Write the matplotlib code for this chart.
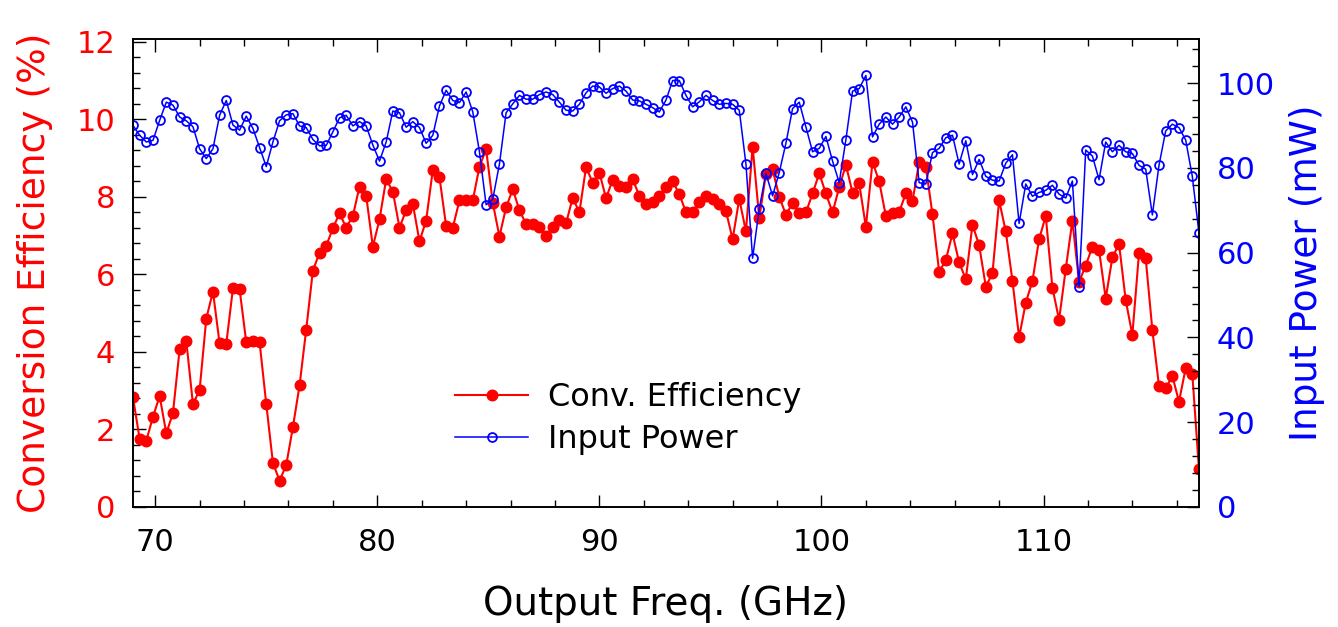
# -*- coding: utf-8 -*-
"""
Conversion efficiency and input power vs output frequency
"""

import matplotlib

matplotlib.use("Agg")
import matplotlib.pyplot as plt
from matplotlib.ticker import MultipleLocator


# region Data

# Output frequency sweep (GHz)
freq_ghz = [
    69.0, 69.3, 69.6, 69.9, 70.2, 70.5, 70.8, 71.1, 71.4, 71.7, 72.0, 72.3,
    72.6, 72.9, 73.2, 73.5, 73.8, 74.1, 74.4, 74.7, 75.0, 75.3, 75.6, 75.9,
    76.2, 76.5, 76.8, 77.1, 77.4, 77.7, 78.0, 78.3, 78.6, 78.9, 79.2, 79.5,
    79.8, 80.1, 80.4, 80.7, 81.0, 81.3, 81.6, 81.9, 82.2, 82.5, 82.8, 83.1,
    83.4, 83.7, 84.0, 84.3, 84.6, 84.9, 85.2, 85.5, 85.8, 86.1, 86.4, 86.7,
    87.0, 87.3, 87.6, 87.9, 88.2, 88.5, 88.8, 89.1, 89.4, 89.7, 90.0, 90.3,
    90.6, 90.9, 91.2, 91.5, 91.8, 92.1, 92.4, 92.7, 93.0, 93.3, 93.6, 93.9,
    94.2, 94.5, 94.8, 95.1, 95.4, 95.7, 96.0, 96.3, 96.6, 96.9, 97.2, 97.5,
    97.8, 98.1, 98.4, 98.7, 99.0, 99.3, 99.6, 99.9, 100.2, 100.5, 100.8, 101.1,
    101.4, 101.7, 102.0, 102.3, 102.6, 102.9, 103.2, 103.5, 103.8, 104.1, 104.4, 104.7,
    105.0, 105.3, 105.6, 105.9, 106.2, 106.5, 106.8, 107.1, 107.4, 107.7, 108.0, 108.3,
    108.6, 108.9, 109.2, 109.5, 109.8, 110.1, 110.4, 110.7, 111.0, 111.3, 111.6, 111.9,
    112.2, 112.5, 112.8, 113.1, 113.4, 113.7, 114.0, 114.3, 114.6, 114.9, 115.2, 115.5,
    115.8, 116.1, 116.4, 116.7, 117.0,
]

# Conversion efficiency (%)
conv_eff = [
    2.83, 1.75, 1.71, 2.33, 2.86, 1.90, 2.43, 4.07, 4.28, 2.65, 3.02, 4.86,
    5.56, 4.22, 4.21, 5.64, 5.62, 4.25, 4.28, 4.25, 2.66, 1.14, 0.68, 1.08,
    2.06, 3.14, 4.58, 6.10, 6.56, 6.74, 7.19, 7.58, 7.21, 7.51, 8.27, 8.03,
    6.72, 7.42, 8.46, 8.14, 7.21, 7.66, 7.82, 6.86, 7.39, 8.70, 8.51, 7.25,
    7.21, 7.91, 7.92, 7.91, 8.78, 9.23, 7.85, 6.98, 7.73, 8.20, 7.66, 7.30,
    7.30, 7.22, 6.99, 7.23, 7.41, 7.32, 7.98, 7.60, 8.77, 8.37, 8.63, 7.97,
    8.44, 8.29, 8.27, 8.46, 8.03, 7.81, 7.86, 8.03, 8.27, 8.40, 8.08, 7.60,
    7.62, 7.86, 8.03, 7.94, 7.82, 7.64, 6.91, 7.95, 7.11, 9.30, 7.45, 8.60,
    8.71, 8.01, 7.54, 7.84, 7.58, 7.60, 8.09, 8.61, 8.09, 7.60, 8.25, 8.83,
    8.11, 8.35, 7.23, 8.91, 8.40, 7.51, 7.58, 7.62, 8.09, 7.90, 8.89, 8.78,
    7.55, 6.07, 6.37, 7.06, 6.31, 5.88, 7.28, 6.76, 5.69, 6.03, 7.91, 7.11,
    5.84, 4.38, 5.27, 5.83, 6.91, 7.51, 5.66, 4.83, 6.14, 7.39, 5.81, 6.23,
    6.72, 6.63, 5.38, 6.44, 6.79, 5.34, 4.44, 6.56, 6.42, 4.57, 3.12, 3.06,
    3.38, 2.72, 3.58, 3.43, 0.97,
]

# Input power (mW)
input_power = [
    90.0, 87.7, 86.1, 86.5, 91.2, 95.5, 94.8, 92.0, 91.1, 89.7, 84.5, 82.2,
    84.5, 92.4, 95.9, 90.1, 88.9, 92.2, 89.3, 84.8, 80.3, 86.1, 91.1, 92.5,
    92.8, 89.9, 89.5, 86.7, 85.2, 85.3, 88.5, 91.8, 92.4, 89.9, 90.9, 89.9,
    85.4, 81.6, 86.1, 93.4, 93.0, 89.6, 90.9, 89.5, 85.8, 87.7, 94.6, 98.3,
    95.9, 95.4, 97.9, 93.2, 83.8, 71.3, 72.6, 80.9, 93.0, 95.1, 97.1, 96.2,
    96.2, 97.3, 97.9, 97.3, 95.5, 93.6, 93.4, 95.0, 97.7, 99.3, 99.1, 97.6,
    98.7, 99.3, 98.1, 96.0, 95.8, 95.0, 94.2, 93.2, 96.0, 100.6, 100.6, 97.1,
    94.4, 95.6, 97.1, 95.9, 95.0, 95.2, 95.0, 93.6, 80.9, 58.7, 70.4, 78.7,
    73.4, 78.9, 85.8, 94.0, 95.5, 89.7, 83.8, 84.6, 87.4, 81.6, 76.5, 86.6,
    98.1, 98.7, 101.8, 87.3, 90.3, 92.0, 90.3, 92.0, 94.4, 90.8, 76.5, 76.2,
    83.6, 84.6, 87.1, 87.7, 80.9, 86.4, 78.4, 82.0, 78.0, 77.1, 76.9, 81.1,
    83.1, 66.9, 76.2, 73.3, 74.2, 74.7, 75.9, 73.8, 72.9, 76.9, 52.0, 84.2,
    82.8, 77.2, 86.1, 83.8, 85.3, 83.8, 83.4, 80.6, 79.7, 68.9, 80.6, 88.7,
    90.3, 89.5, 86.6, 78.0, 64.6,
]

# endregion

RED = "#ff0000"
BLUE = "#0000ff"


def fig():
    plt.rcParams["font.family"] = "DejaVu Sans"
    fig = plt.figure(figsize=(13.38, 6.27), dpi=100)
    ax1 = fig.add_axes([0.0994, 0.1914, 0.7967, 0.7464])
    ax2 = ax1.twinx()

    # Conversion efficiency (left axis)
    ax1.plot(
        freq_ghz,
        conv_eff,
        color=RED,
        linewidth=1.5,
        marker="o",
        markersize=7.6,
        markerfacecolor=RED,
        markeredgecolor=RED,
        label="Conv. Efficiency",
    )
    # Input power (right axis)
    ax2.plot(
        freq_ghz,
        input_power,
        color=BLUE,
        linewidth=1.1,
        marker="o",
        markersize=6.4,
        markerfacecolor="none",
        markeredgecolor=BLUE,
        markeredgewidth=1.3,
        label="Input Power",
    )

    ax1.set_xlim(69, 117)
    ax1.set_ylim(0, 12.077)
    ax2.set_ylim(0, 110.4)

    ax1.xaxis.set_major_locator(MultipleLocator(10))
    ax1.xaxis.set_minor_locator(MultipleLocator(2))
    ax1.yaxis.set_major_locator(MultipleLocator(2))
    ax1.yaxis.set_minor_locator(MultipleLocator(0.4))
    ax2.yaxis.set_major_locator(MultipleLocator(20))
    ax2.yaxis.set_minor_locator(MultipleLocator(4))

    ax1.tick_params(axis="x", which="both", direction="in", top=True,
                    labelsize=22, pad=15)
    ax1.tick_params(axis="y", which="both", direction="in", right=False,
                    labelsize=22, labelcolor=RED, pad=13)
    ax2.tick_params(axis="y", which="both", direction="in",
                    labelsize=22, labelcolor=BLUE, pad=13)
    for ax in (ax1, ax2):
        ax.tick_params(which="major", length=9, width=1)
        ax.tick_params(which="minor", length=5, width=1)
        for spine in ax.spines.values():
            spine.set_linewidth(1.2)

    ax1.set_xlabel("Output Freq. (GHz)", fontsize=28, labelpad=20)
    ax1.set_ylabel("Conversion Efficiency (%)", fontsize=27, color=RED,
                   labelpad=17)
    ax2.set_ylabel("Input Power (mW)", fontsize=27, color=BLUE, labelpad=10)

    handles = ax1.get_lines() + ax2.get_lines()
    ax2.legend(
        handles,
        [h.get_label() for h in handles],
        loc="upper left",
        bbox_to_anchor=(455 / 1338, 1 - 382 / 627),
        bbox_transform=fig.transFigure,
        frameon=False,
        fontsize=23,
        numpoints=1,
        handlelength=2.3,
        handletextpad=0.6,
        labelspacing=0.35,
        borderpad=0,
        borderaxespad=0,
    )

    fig.savefig("out.png", dpi=100)


if __name__ == "__main__":
    fig()
